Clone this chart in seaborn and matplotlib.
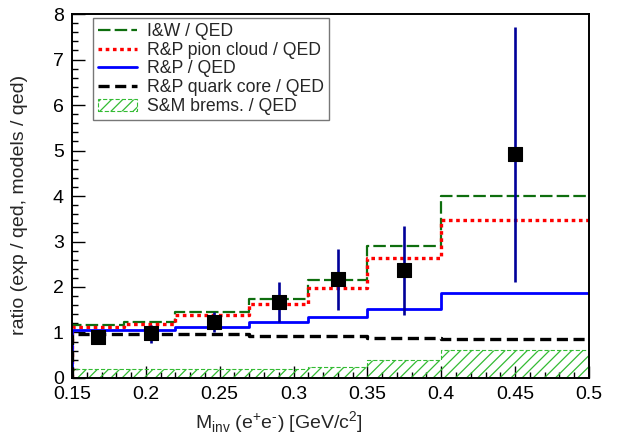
import matplotlib
matplotlib.use("Agg")
import matplotlib.pyplot as plt
from matplotlib.lines import Line2D
from matplotlib.patches import Patch
from matplotlib.ticker import MultipleLocator
import seaborn as sns
import pandas as pd

# bin edges of the invariant mass histograms [GeV/c^2]
edges = [0.15, 0.185, 0.22, 0.27, 0.31, 0.35, 0.40, 0.50]

# model / QED ratios per bin
iw = [1.17, 1.24, 1.46, 1.74, 2.16, 2.91, 3.99]
rp_pion = [1.13, 1.19, 1.38, 1.62, 1.98, 2.64, 3.48]
rp = [1.05, 1.06, 1.13, 1.24, 1.35, 1.52, 1.87]
rp_quark = [0.97, 0.97, 0.97, 0.93, 0.92, 0.88, 0.86]
sm_brems = [0.19, 0.19, 0.19, 0.19, 0.25, 0.39, 0.62]

# exp / qed data points
data_x = [0.1675, 0.2035, 0.246, 0.29, 0.33, 0.375, 0.45]
data_y = [0.91, 0.99, 1.24, 1.68, 2.18, 2.37, 4.93]
err_up = [0.10, 0.18, 0.22, 0.43, 0.65, 0.96, 2.79]
err_dn = [0.10, 0.21, 0.24, 0.44, 0.68, 0.98, 2.81]

sns.set_theme(style="white")
plt.rcParams["font.family"] = ["Liberation Sans", "DejaVu Sans"]
plt.rcParams["mathtext.fontset"] = "custom"
plt.rcParams["mathtext.rm"] = "Liberation Sans"
plt.rcParams["lines.scale_dashes"] = False
plt.rcParams["hatch.linewidth"] = 0.9


def step_frame(vals):
    # histogram outline starting from zero at the first edge
    x = [edges[0]] + edges
    y = [0] + vals + [vals[-1]]
    return pd.DataFrame({"x": x, "y": y})


fig = plt.figure(figsize=(6.18, 4.38), dpi=100)
ax = fig.add_axes([0.1165, 0.137, 0.8365, 0.831])

green_hatch = "#33bb33"
ax.fill_between(edges, sm_brems + [sm_brems[-1]], step="post", facecolor="none",
                edgecolor=green_hatch, hatch="///", linestyle=(0, (3, 1.5)), linewidth=0.8)

styles = [
    (iw, "#0e6e0e", 1.6, (0, (9, 3))),
    (rp_pion, "#ff0000", 2.4, (0, (2.6, 2.6))),
    (rp, "#0000ff", 2.0, "-"),
    (rp_quark, "black", 2.4, (0, (8, 4))),
]
for vals, col, lw, ls in styles:
    sns.lineplot(data=step_frame(vals), x="x", y="y", estimator=None, sort=False,
                 drawstyle="steps-post", color=col, linewidth=lw, linestyle=ls, ax=ax)

ax.errorbar(data_x, data_y, yerr=[err_dn, err_up], fmt="none", ecolor="#000099",
            elinewidth=1.9, capsize=0, zorder=4)
sns.scatterplot(x=data_x, y=data_y, marker="s", s=95, color="black",
                edgecolor="black", zorder=5, ax=ax)

ax.set_xlim(0.15, 0.5)
ax.set_ylim(0, 8)
ax.xaxis.set_minor_locator(MultipleLocator(0.01))
ax.yaxis.set_major_locator(MultipleLocator(1))
ax.yaxis.set_minor_locator(MultipleLocator(0.2))
ax.set_xticks([0.15, 0.2, 0.25, 0.3, 0.35, 0.4, 0.45, 0.5])
ax.set_xticklabels(["0.15", "0.2", "0.25", "0.3", "0.35", "0.4", "0.45", "0.5"])
ax.tick_params(which="both", direction="in", labelsize=14, colors="black",
               top=False, right=False, bottom=True, left=True)
ax.tick_params(which="major", length=9, width=1.0, pad=6)
ax.tick_params(which="minor", length=4.5, width=1.0)
for s in ax.spines.values():
    s.set_color("black")
    s.set_linewidth(1.4)

ax.set_xlabel(r"M$_{\mathregular{inv}}$ (e$^{+}$e$^{\text{-}}$) [GeV/c$^{2}$]", fontsize=14)
ax.xaxis.set_label_coords(0.40, -0.085)
ax.set_ylabel("ratio (exp / qed, models / qed)", fontsize=14)
ax.yaxis.set_label_coords(-0.085, 0.475)

handles = [
    Line2D([], [], color="#0e6e0e", linewidth=1.6, linestyle=(0, (9, 3))),
    Line2D([], [], color="#ff0000", linewidth=2.4, linestyle=(0, (2.6, 2.6))),
    Line2D([], [], color="#0000ff", linewidth=2.0),
    Line2D([], [], color="black", linewidth=2.4, linestyle=(0, (8, 4))),
    Patch(facecolor="none", edgecolor=green_hatch, hatch="///", linestyle=(0, (3, 1.5)), linewidth=0.8),
]
labels = ["I&W / QED", "R&P pion cloud / QED", "R&P / QED",
          "R&P quark core / QED", "S&M brems. / QED"]
leg = ax.legend(handles, labels, loc="upper left", bbox_to_anchor=(0.041, 0.99),
                fontsize=12.7, frameon=True, fancybox=False, borderaxespad=0,
                handlelength=2.2, handletextpad=0.55, labelspacing=0.1,
                borderpad=0.3, handleheight=0.7)
leg.get_frame().set_edgecolor("#555555")
leg.get_frame().set_linewidth(1.0)

fig.savefig("out.png", dpi=100)
